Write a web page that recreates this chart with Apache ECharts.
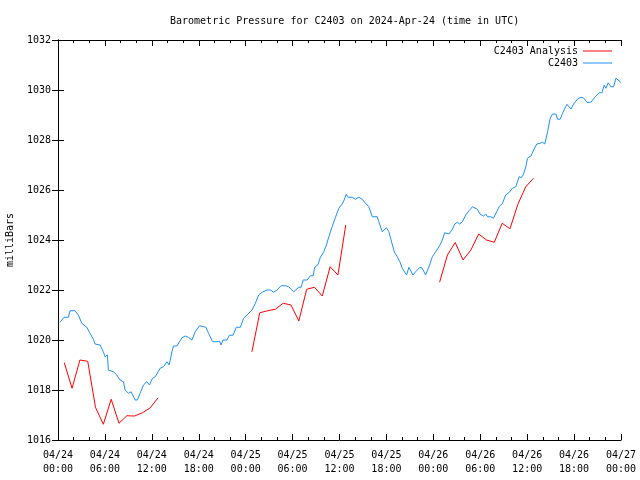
<!DOCTYPE html>
<html>
<head>
<meta charset="utf-8">
<script src="https://cdn.jsdelivr.net/npm/echarts@6/dist/echarts.min.js"></script>
<style>html,body{margin:0;padding:0;background:#fff;}#c{width:640px;height:480px;}</style>
</head>
<body>
<div id="c"></div>
<script>
// hours since 2024-04-24 00:00 UTC
const xTickHours = [0, 6, 12, 18, 24, 30, 36, 42, 48, 54, 60, 66, 72];
const yTickValues = [1016, 1018, 1020, 1022, 1024, 1026, 1028, 1030, 1032];

const analysisHours = [0.8, 1.8, 2.8, 3.8, 4.8, 5.8, 6.8, 7.8, 8.8, 9.8, 10.8, 11.8, 12.8,
  18.0,
  24.8, 25.8, 26.8, 27.8, 28.8, 29.8, 30.8, 31.8, 32.8, 33.8, 34.8, 35.8, 36.8,
  42.0,
  48.8, 49.8, 50.8, 51.8, 52.8, 53.8, 54.8, 55.8, 56.8, 57.8, 58.8, 59.8, 60.8];
const analysisValues = [1019.09, 1018.07, 1019.2, 1019.15, 1017.3, 1016.63, 1017.63, 1016.67, 1016.97, 1016.96, 1017.09, 1017.29, 1017.69,
  '-',
  1019.53, 1021.09, 1021.17, 1021.23, 1021.47, 1021.4, 1020.76, 1022.03, 1022.11, 1021.76, 1022.93, 1022.6, 1024.6,
  '-',
  1022.31, 1023.4, 1023.9, 1023.2, 1023.6, 1024.24, 1024.0, 1023.91, 1024.67, 1024.45, 1025.42, 1026.12, 1026.47];

const pressureHours = [0.26, 0.77, 1.32, 1.54, 2.18, 2.60, 3.04, 3.68, 4.10, 4.52, 4.74, 5.38, 5.80, 6.02, 6.32, 6.44,
  7.08, 7.52, 7.72, 7.94, 8.37, 8.58, 8.80, 9.01, 9.35, 9.86, 10.16, 10.50, 10.93, 11.36, 11.70, 12.08, 12.43,
  13.07, 13.49, 13.93, 14.22, 14.57, 14.77, 15.21, 15.85, 16.27, 16.69, 17.13, 17.55, 18.10, 18.92, 19.25, 19.77,
  20.33, 20.66, 20.84, 21.10, 21.61, 21.91, 22.38, 22.80, 23.32, 23.74, 24.17, 24.81, 25.24, 25.66, 26.10, 26.74,
  27.16, 27.58, 28.02, 28.53, 29.08, 29.50, 29.72, 30.14, 30.36, 30.78, 31.09, 31.35, 31.86, 32.28, 32.63, 32.83,
  33.22, 33.56, 33.99, 34.33, 34.63, 35.06, 35.49, 35.91, 36.34, 36.55, 36.86, 37.11, 37.62, 38.05, 38.47, 38.91,
  39.33, 39.75, 40.19, 40.83, 41.03, 41.47, 41.67, 42.02, 42.31, 42.53, 43.04, 43.39, 43.72, 44.03, 44.58, 44.88,
  45.39, 45.73, 45.95, 46.29, 46.59, 47.01, 47.44, 47.87, 48.30, 48.85, 49.15, 49.45, 50.00, 50.44, 50.73, 51.08,
  51.37, 51.72, 52.14, 52.56, 53.00, 53.64, 53.97, 54.41, 54.70, 54.92, 55.34, 55.69, 56.11, 56.41, 56.84, 57.26,
  57.69, 58.12, 58.55, 58.97, 59.28, 59.53, 59.83, 60.04, 60.47, 60.89, 61.23, 61.66, 61.97, 62.26, 62.61, 62.94,
  63.25, 63.67, 63.89, 64.22, 64.53, 65.08, 65.60, 65.94, 66.45, 66.87, 67.22, 67.64, 68.15, 68.66, 69.22, 69.56,
  69.86, 70.07, 70.37, 70.71, 71.06, 71.35, 71.57, 71.91, 72.0];
const pressureValues = [1020.71, 1020.91, 1020.91, 1021.17, 1021.17, 1021.0, 1020.67, 1020.51, 1020.27, 1020.03, 1019.84, 1019.8, 1019.53, 1019.33, 1019.4, 1018.8,
  1018.73, 1018.6, 1018.67, 1018.4, 1018.33, 1018.0, 1018.07, 1017.87, 1017.93, 1017.6, 1017.6, 1017.87, 1018.2, 1018.33, 1018.2, 1018.47, 1018.53,
  1018.87, 1018.93, 1019.13, 1019.0, 1019.53, 1019.76, 1019.76, 1020.09, 1020.16, 1020.1, 1020.0, 1020.33, 1020.57, 1020.51, 1020.27, 1019.93,
  1019.93, 1019.95, 1019.8, 1020.0, 1020.0, 1020.19, 1020.19, 1020.51, 1020.51, 1020.87, 1021.0, 1021.2, 1021.47, 1021.8, 1021.91, 1022.0,
  1022.0, 1021.91, 1022.0, 1022.17, 1022.17, 1022.13, 1022.07, 1021.93, 1021.89, 1022.11, 1022.11, 1022.4, 1022.4, 1022.57, 1022.57, 1022.91,
  1023.0, 1023.31, 1023.53, 1023.8, 1024.13, 1024.53, 1024.91, 1025.27, 1025.44, 1025.57, 1025.83, 1025.71, 1025.71, 1025.63, 1025.71, 1025.63,
  1025.47, 1025.33, 1024.93, 1024.93, 1024.73, 1024.33, 1024.33, 1024.49, 1024.33, 1024.07, 1023.5, 1023.33, 1023.13, 1022.87, 1022.6, 1022.91,
  1022.6, 1022.73, 1022.73, 1022.91, 1022.87, 1022.6, 1022.93, 1023.33, 1023.53, 1023.8, 1024.0, 1024.29, 1024.24, 1024.43, 1024.64, 1024.71,
  1024.64, 1024.73, 1025.0, 1025.17, 1025.33, 1025.23, 1025.04, 1024.96, 1025.04, 1024.93, 1024.93, 1024.87, 1025.13, 1025.33, 1025.47, 1025.8,
  1025.9, 1026.07, 1026.13, 1026.53, 1026.5, 1026.63, 1026.93, 1027.27, 1027.36, 1027.64, 1027.84, 1027.87, 1027.91, 1027.84, 1028.33, 1028.87,
  1029.04, 1029.04, 1028.83, 1028.83, 1029.07, 1029.43, 1029.24, 1029.44, 1029.64, 1029.71, 1029.68, 1029.51, 1029.51, 1029.71, 1029.89, 1029.89,
  1030.2, 1030.07, 1030.29, 1030.13, 1030.13, 1030.47, 1030.51, 1030.33, 1030.29];

const FONT = 'DejaVu Sans Mono';
const chart = echarts.init(document.getElementById('c'), null, {renderer: 'canvas'});

function pairs(xs, ys) { return xs.map((x, i) => [x, ys[i]]); }
function xLabel(v) {
  const day = 24 + Math.floor(v / 24);
  const hr = v % 24;
  return '04/' + day + '\n' + (hr < 10 ? '0' + hr : hr) + ':00';
}

const axisLine = {show: true, lineStyle: {color: '#000', width: 1}};
const xCommon = {
  type: 'value', min: xTickHours[0], max: xTickHours[xTickHours.length - 1], interval: 6,
  axisLine: axisLine,
  axisTick: {show: true, inside: true, length: 6, lineStyle: {color: '#000'}},
  minorTick: {show: true, splitNumber: 3, length: 3, lineStyle: {color: '#000'}},
  splitLine: {show: false}, minorSplitLine: {show: false}
};
const yCommon = {
  type: 'value', min: yTickValues[0], max: yTickValues[yTickValues.length - 1], interval: 2,
  axisLine: axisLine,
  axisTick: {show: true, inside: true, length: 6, lineStyle: {color: '#000'}},
  splitLine: {show: false}
};
const legendText = {fontFamily: FONT, fontSize: 10, color: '#000'};

chart.setOption({
  animation: false,
  backgroundColor: '#fff',
  textStyle: {fontFamily: FONT},
  title: {
    text: 'Barometric Pressure for C2403 on 2024-Apr-24 (time in UTC)',
    left: 165, top: 11,
    textStyle: {fontFamily: FONT, fontSize: 10, fontWeight: 'normal', color: '#000'}
  },
  legend: [
    {data: ['C2403 Analysis'], right: 28, top: 46, padding: 0, itemWidth: 29, itemHeight: 1, itemGap: 0,
     icon: 'rect', align: 'right', selectedMode: false, textStyle: legendText},
    {data: ['C2403'], right: 28, top: 58, padding: 0, itemWidth: 29, itemHeight: 1, itemGap: 0,
     icon: 'rect', align: 'right', selectedMode: false, textStyle: legendText}
  ],
  grid: {left: 58, right: 19, top: 40, bottom: 40, containLabel: false, outerBoundsMode: 'none'},
  xAxis: [
    Object.assign({}, xCommon, {
      position: 'bottom',
      axisLabel: {show: true, formatter: xLabel, fontFamily: FONT, fontSize: 10, color: '#000', margin: 8, lineHeight: 14}
    }),
    Object.assign({}, xCommon, {position: 'top', axisLabel: {show: false}})
  ],
  yAxis: [
    Object.assign({}, yCommon, {
      position: 'left',
      name: 'milliBars', nameLocation: 'middle', nameGap: 43, nameRotate: 90,
      nameTextStyle: {fontFamily: FONT, fontSize: 10, color: '#000'},
      axisLabel: {show: true, formatter: v => String(v), fontFamily: FONT, fontSize: 10, color: '#000', margin: 7}
    }),
    Object.assign({}, yCommon, {position: 'right', axisLabel: {show: false}})
  ],
  series: [
    {
      name: 'C2403 Analysis', type: 'line', xAxisIndex: 0, yAxisIndex: 0,
      data: pairs(analysisHours, analysisValues), connectNulls: false,
      showSymbol: false, symbol: 'none', color: '#ff0000',
      lineStyle: {color: '#ff0000', width: 1}
    },
    {
      name: 'C2403', type: 'line', xAxisIndex: 0, yAxisIndex: 0,
      data: pairs(pressureHours, pressureValues),
      showSymbol: false, symbol: 'none', color: '#1e90ff',
      lineStyle: {color: '#1e90ff', width: 1}
    }
  ]
});
</script>
</body>
</html>
